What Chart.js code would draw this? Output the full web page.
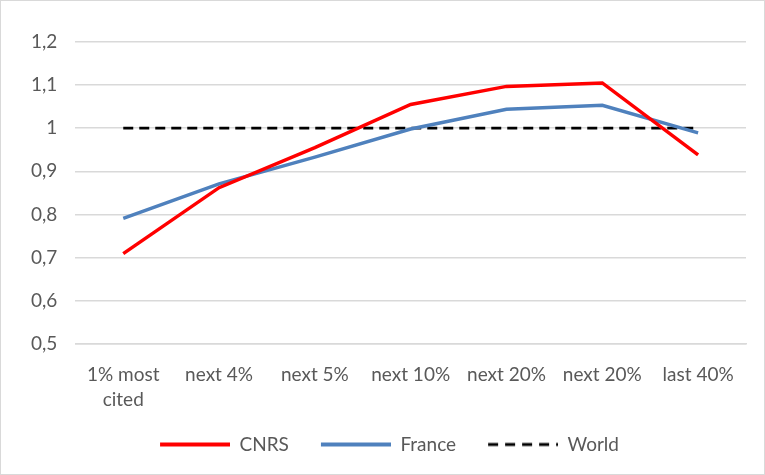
<!DOCTYPE html>
<html lang="en">
<head>
    <meta charset="UTF-8">
    <title>Citation distribution</title>
    <script src="https://cdn.jsdelivr.net/npm/chart.js"></script>
    <style>
        html, body { margin: 0; padding: 0; background: #fff; }
        .chart-box {
            position: relative;
            width: 763px;
            height: 473px;
            border: 1px solid #d9d9d9;
        }
    </style>
</head>
<body>
    <div class="chart-box">
        <canvas id="lineChart"></canvas>
    </div>

    <script>
        const categories = [['1% most', 'cited'], 'next 4%', 'next 5%', 'next 10%', 'next 20%', 'next 20%', 'last 40%'];
        const cnrsValues = [0.709, 0.862, 0.955, 1.055, 1.097, 1.105, 0.938];
        const franceValues = [0.791, 0.871, 0.933, 0.998, 1.044, 1.053, 0.989];
        const worldValues = [1, 1, 1, 1, 1, 1, 1];
        const yTicks = [0.5, 0.6, 0.7, 0.8, 0.9, 1.0, 1.1, 1.2];

        const textColor = '#595959';
        Chart.defaults.font.family = 'Lato, "Open Sans", sans-serif';
        Chart.defaults.font.size = 19;
        Chart.defaults.color = textColor;

        // legend symbols: a transparent gap on the left, then the line sample
        const symW = 90;
        const gap = 20;
        function legendLine(color, width, dash) {
            const c = document.createElement('canvas');
            c.width = symW;
            c.height = 6;
            const g = c.getContext('2d');
            g.strokeStyle = color;
            g.lineWidth = width;
            g.setLineDash(dash);
            g.beginPath();
            g.moveTo(gap, 3);
            g.lineTo(symW, 3);
            g.stroke();
            return c;
        }

        const ctx = document.getElementById('lineChart').getContext('2d');
        const lineChart = new Chart(ctx, {
            type: 'line',
            data: {
                labels: categories,
                datasets: [
                    {
                        label: 'CNRS',
                        data: cnrsValues,
                        borderColor: '#ff0000',
                        backgroundColor: '#ff0000',
                        borderWidth: 3.5,
                        pointRadius: 0,
                        pointStyle: legendLine('#ff0000', 4, []),
                        tension: 0,
                        fill: false
                    },
                    {
                        label: 'France',
                        data: franceValues,
                        borderColor: '#4f81bd',
                        backgroundColor: '#4f81bd',
                        borderWidth: 3.5,
                        pointRadius: 0,
                        pointStyle: legendLine('#4f81bd', 4, []),
                        tension: 0,
                        fill: false
                    },
                    {
                        label: 'World',
                        data: worldValues,
                        borderColor: '#000000',
                        backgroundColor: '#000000',
                        borderWidth: 2.75,
                        borderDash: [10, 6],
                        pointRadius: 0,
                        pointStyle: legendLine('#000000', 3, [10, 7]),
                        fill: false
                    }
                ]
            },
            options: {
                responsive: true,
                maintainAspectRatio: false,
                animation: false,
                layout: {
                    padding: { top: 41, left: 12, right: 18, bottom: 10 }
                },
                plugins: {
                    tooltip: { enabled: false },
                    legend: {
                        position: 'bottom',
                        labels: {
                            usePointStyle: true,
                            pointStyleWidth: symW,
                            boxWidth: symW,
                            boxHeight: 6,
                            padding: 12,
                            color: textColor
                        }
                    }
                },
                scales: {
                    x: {
                        offset: true,
                        grid: { display: false },
                        border: { color: '#d9d9d9', width: 1.5 },
                        ticks: {
                            maxRotation: 0,
                            autoSkip: false,
                            padding: 10,
                            color: textColor,
                            font: { lineHeight: 1.35 }
                        }
                    },
                    y: {
                        min: 0.5,
                        max: 1.2,
                        afterBuildTicks: axis => {
                            axis.ticks = yTicks.map(v => ({ value: v }));
                        },
                        grid: { color: '#d9d9d9', lineWidth: 1.5, drawTicks: false },
                        border: { display: false },
                        ticks: {
                            padding: 18,
                            color: textColor,
                            callback: value => String(Math.round(value * 10) / 10).replace('.', ',')
                        }
                    }
                }
            }
        });
    </script>
</body>
</html>
